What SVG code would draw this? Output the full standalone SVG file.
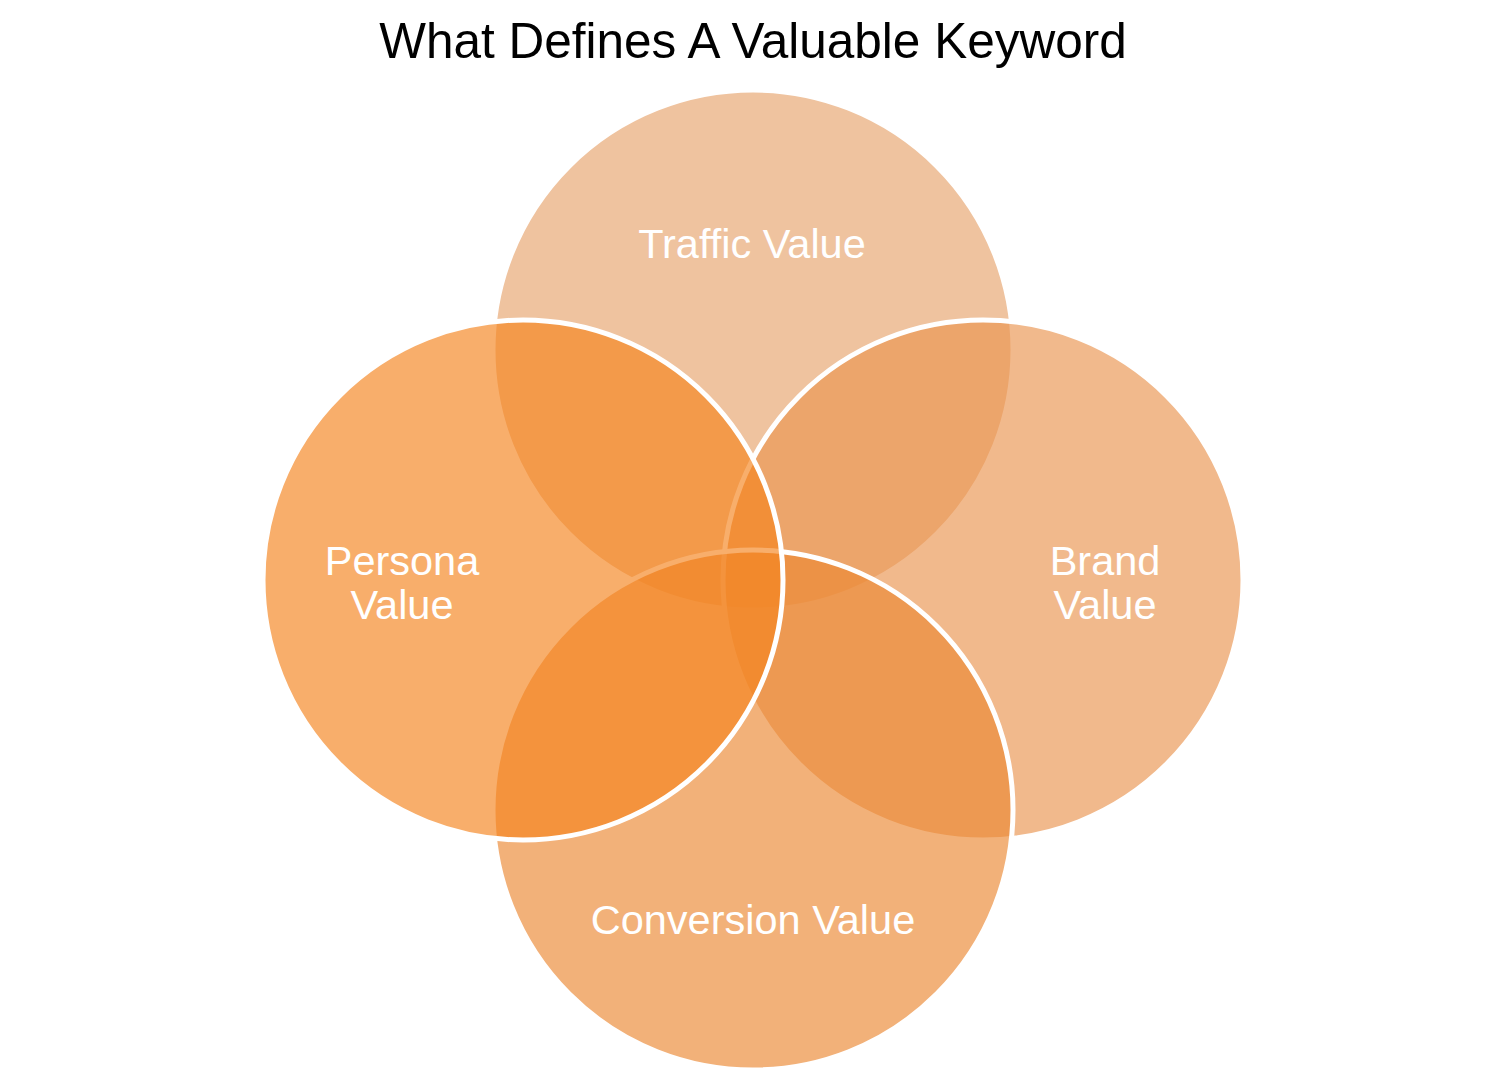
<svg xmlns="http://www.w3.org/2000/svg" width="1506" height="1084" viewBox="0 0 1506 1084">
<style>
.c{stroke:#ffffff;stroke-width:5;fill-opacity:0.66}
.lbl{font-family:"Liberation Sans",Arial,sans-serif;font-size:41.5px;fill:#ffffff;text-anchor:middle}
.title{font-family:"Liberation Sans",Arial,sans-serif;font-size:49.5px;fill:#000000;text-anchor:middle}
</style>
<rect width="1506" height="1084" fill="#ffffff"/>
<text class="title" x="753" y="58">What Defines A Valuable Keyword</text>
<g id="traffic">
<circle class="c" cx="753" cy="350" r="260" fill="#E6A46D"/>
</g>
<g id="brand">
<circle class="c" cx="983" cy="580" r="260" fill="#E99550"/>
</g>
<g id="conversion">
<circle class="c" cx="753" cy="810" r="260" fill="#EB8834"/>
</g>
<g id="persona">
<circle class="c" cx="523" cy="580" r="260" fill="#F4841F"/>
</g>
<g id="labels">
<text class="lbl" x="752" y="258">Traffic Value</text>
<text class="lbl" x="402" y="575">Persona</text>
<text class="lbl" x="402" y="619">Value</text>
<text class="lbl" x="1105" y="575">Brand</text>
<text class="lbl" x="1105" y="619">Value</text>
<text class="lbl" x="753" y="934">Conversion Value</text>
</g>
<g id="connectors"/>
</svg>
